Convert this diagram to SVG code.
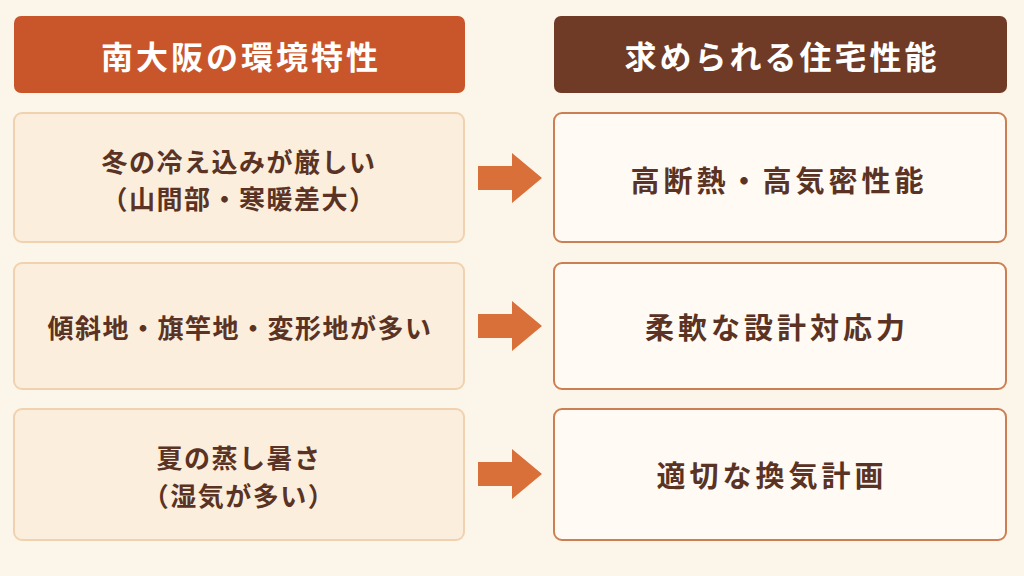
<svg xmlns="http://www.w3.org/2000/svg" width="1024" height="576" viewBox="0 0 1024 576">
<style>
text{font-family:"Noto Sans CJK JP","Noto Sans CJK SC",sans-serif;font-weight:bold;text-anchor:middle;dominant-baseline:central}
.h{fill:#fff;font-size:32px;letter-spacing:3px}
.t{fill:#5a3324;font-size:26px;letter-spacing:1.5px}
.u{fill:#5a3324;font-size:29px;letter-spacing:4px}
.l{fill:#fbeedc;stroke:#f0d2b0;stroke-width:2}
.r{fill:#fffaf3;stroke:#cc7f52;stroke-width:2}
.a{fill:#d9703a}
</style>
<rect width="1024" height="576" fill="#fcf5ea"/>
<g id="hdrL"><rect x="14" y="16" width="451" height="77" rx="7" fill="#c9562b"/><text class="h" x="241" y="55">南大阪の環境特性</text></g>
<g id="hdrR"><rect x="554" y="16" width="453" height="77" rx="7" fill="#6f3b27"/><text class="h" x="782" y="55">求められる住宅性能</text></g>
<g id="l1"><rect class="l" x="14" y="113" width="450" height="129" rx="8"/><text class="t" x="239" y="160">冬の冷え込みが厳しい</text><text class="t" x="239" y="197">（山間部・寒暖差大）</text></g>
<g id="l2"><rect class="l" x="14" y="263" width="450" height="126" rx="8"/><text class="t" x="240" y="326">傾斜地・旗竿地・変形地が多い</text></g>
<g id="l3"><rect class="l" x="14" y="409" width="450" height="131" rx="8"/><text class="t" x="239" y="456">夏の蒸し暑さ</text><text class="t" x="239" y="494">（湿気が多い）</text></g>
<g id="r1"><rect class="r" x="554" y="113" width="452" height="129" rx="8"/><text class="u" x="779" y="179">高断熱・高気密性能</text></g>
<g id="r2"><rect class="r" x="554" y="263" width="452" height="126" rx="8"/><text class="u" x="777" y="326">柔軟な設計対応力</text></g>
<g id="r3"><rect class="r" x="554" y="409" width="452" height="131" rx="8"/><text class="u" x="772" y="474">適切な換気計画</text></g>
<g id="connectors">
<polygon class="a" points="478,166 512,166 512,153 542,178 512,203 512,190 478,190"/>
<polygon class="a" points="478,314 512,314 512,301 542,326 512,351 512,338 478,338"/>
<polygon class="a" points="478,462 512,462 512,449 542,474 512,499 512,486 478,486"/>
</g>
</svg>
